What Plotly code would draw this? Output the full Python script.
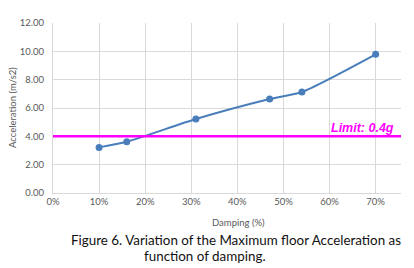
import plotly.graph_objects as go

damping = [0.10, 0.16, 0.31, 0.47, 0.54, 0.70]
acceleration = [3.22, 3.62, 5.22, 6.63, 7.13, 9.79]
limit_value = 4.0
limit_label = "Limit: 0.4g"
x_ticks = [0, 0.1, 0.2, 0.3, 0.4, 0.5, 0.6, 0.7]
x_tick_text = ["0%", "10%", "20%", "30%", "40%", "50%", "60%", "70%"]
y_ticks = [0, 2, 4, 6, 8, 10, 12]
y_tick_text = ["0.00", "2.00", "4.00", "6.00", "8.00", "10.00", "12.00"]

FONT = "Lato"
GRAY = "#595959"
BLUE = "#4a7ebb"

W, H = 414, 268
L, R, T, B = 53, 13, 23, 75
pw, ph = W - L - R, H - T - B


def px2paper(px, py):
    return (px - L) / pw, (H - B - py) / ph


fig = go.Figure()
fig.add_trace(go.Scatter(
    x=damping, y=acceleration, mode="lines+markers",
    line=dict(color=BLUE, width=2, shape="spline", smoothing=0.6),
    marker=dict(color=BLUE, size=7),
    showlegend=False, hoverinfo="skip",
))
fig.add_trace(go.Scatter(
    x=[0, 0.755], y=[limit_value, limit_value], mode="lines",
    line=dict(color="#ff00ff", width=2.5),
    showlegend=False, hoverinfo="skip", cliponaxis=False,
))

anns = [
    dict(text="<b><i>" + limit_label + "</i></b>", x=0.745, y=limit_value,
         xref="x", yref="y", xanchor="right", yanchor="bottom",
         showarrow=False, yshift=-1,
         font=dict(family="Liberation Sans", size=12.5, color="#ff00ff")),
]
for text, px, py, kw in [
    ("Acceleration (m/s2)", 12, 108, dict(textangle=-90, xanchor="center",
                                            font=dict(family=FONT, size=9.5, color=GRAY))),
    ("Damping (%)", 238, 222, dict(xanchor="center",
                                   font=dict(family=FONT, size=9.5, color=GRAY))),
    ("Figure 6. Variation of the Maximum floor Acceleration as", 69, 240,
     dict(xanchor="left", font=dict(family=FONT, size=13.4, color="#111111"))),
    ("function of damping.", 142, 256,
     dict(xanchor="left", font=dict(family=FONT, size=13.4, color="#111111"))),
]:
    x, y = px2paper(px, py)
    anns.append(dict(text=text, x=x, y=y, xref="paper", yref="paper",
                     showarrow=False, yanchor="middle", **kw))

fig.update_layout(
    width=W, height=H,
    margin=dict(l=L, r=R, t=T, b=B),
    paper_bgcolor="white", plot_bgcolor="white",
    font=dict(family=FONT, color=GRAY, size=9),
    xaxis=dict(range=[0, 0.755], tickvals=x_ticks, ticktext=x_tick_text,
               showgrid=True, gridcolor="#d9d9d9", gridwidth=1,
               zeroline=False, showline=True, linecolor="#d9d9d9",
               ticks="", tickfont=dict(size=9.5, color=GRAY, family=FONT),
               fixedrange=True, automargin=False),
    yaxis=dict(range=[0, 12], tickvals=y_ticks, ticktext=y_tick_text,
               showgrid=True, gridcolor="#d9d9d9", gridwidth=1,
               zeroline=False, showline=True, linecolor="#d9d9d9",
               ticks="", ticklabelstandoff=6,
               tickfont=dict(size=9.5, color=GRAY, family=FONT),
               fixedrange=True, automargin=False),
    annotations=anns,
)

fig.write_html("out.html", config={"displayModeBar": False},
               post_script="document.body.style.margin='0';document.body.style.overflow='hidden';")
